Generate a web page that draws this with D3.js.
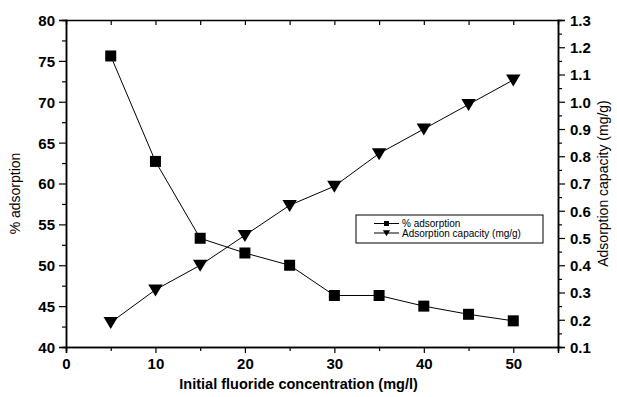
<!DOCTYPE html>
<html>
<head>
<meta charset="utf-8">
<script src="https://cdn.jsdelivr.net/npm/d3@7"></script>
<style>
  body { margin: 0; background: #fff; }
  svg { display: block; font-family: "Liberation Sans", Arial, sans-serif; }
  .tick text { font-weight: bold; font-size: 15px; fill: #000; }
  .domain, .tick line { stroke: #000; }
</style>
</head>
<body>
<svg id="chart" width="617" height="397"></svg>
<script>
// fluoride concentration (mg/l)
const concentration = [5, 10, 15, 20, 25, 30, 35, 40, 45, 50];
// % adsorption (left axis)
const adsorption = [75.6, 62.7, 53.3, 51.5, 50.0, 46.3, 46.3, 45.0, 44.0, 43.2];
// adsorption capacity mg/g (right axis)
const capacity = [0.19, 0.31, 0.40, 0.51, 0.62, 0.69, 0.81, 0.90, 0.99, 1.08];

const xTicks = [0, 10, 20, 30, 40, 50];
const leftTicks = [40, 45, 50, 55, 60, 65, 70, 75, 80];
const rightTicks = [0.1, 0.2, 0.3, 0.4, 0.5, 0.6, 0.7, 0.8, 0.9, 1.0, 1.1, 1.2, 1.3];

const margin = { top: 20, right: 59, bottom: 50, left: 66 };
const width = 617, height = 397;
const w = width - margin.left - margin.right;
const h = height - margin.top - margin.bottom;

const svg = d3.select('#chart');
const g = svg.append('g').attr('transform', `translate(${margin.left},${margin.top})`);

const x = d3.scaleLinear().domain([0, 55]).range([0, w]);
const yL = d3.scaleLinear().domain([40, 80]).range([h, 0]);
const yR = d3.scaleLinear().domain([0.1, 1.3]).range([h, 0]);

// minor ticks first (no labels)
g.append('g').attr('transform', `translate(0,${h})`)
  .call(d3.axisBottom(x).tickValues(d3.range(5, 55, 10)).tickSize(4).tickFormat(''));
g.append('g')
  .call(d3.axisLeft(yL).tickValues(d3.range(42.5, 80, 5)).tickSize(4).tickFormat(''));
g.append('g').attr('transform', `translate(${w},0)`)
  .call(d3.axisRight(yR).tickValues(d3.range(0.15, 1.3, 0.1)).tickSize(4).tickFormat(''));
g.append('g')
  .call(d3.axisTop(x).tickValues(d3.range(5, 55, 5)).tickSize(-5).tickFormat(''));

// major axes
g.append('g').attr('transform', `translate(0,${h})`)
  .call(d3.axisBottom(x).tickValues(xTicks).tickSize(6).tickPadding(5).tickFormat(d3.format('d')));
const lAxis = g.append('g')
  .call(d3.axisLeft(yL).tickValues(leftTicks).tickSize(7).tickPadding(4).tickFormat(d3.format('d')));
const rAxis = g.append('g').attr('transform', `translate(${w},0)`)
  .call(d3.axisRight(yR).tickValues(rightTicks).tickSize(7).tickPadding(5).tickFormat(d3.format('.1f')));

g.selectAll('.domain').attr('stroke-width', 1.5);
g.selectAll('.tick line').attr('stroke-width', 1.2);
lAxis.selectAll('.tick text').attr('dy', '0.36em');
rAxis.selectAll('.tick text').attr('dy', '0.36em');

// axis titles
svg.append('text')
  .attr('x', margin.left + x(26)).attr('y', 389)
  .attr('text-anchor', 'middle').attr('font-size', 14.5).attr('font-weight', 'bold')
  .text('Initial fluoride concentration (mg/l)');
svg.append('text')
  .attr('transform', `translate(20,${margin.top + h / 2 + 10}) rotate(-90)`)
  .attr('text-anchor', 'middle').attr('font-size', 14)
  .text('% adsorption');
svg.append('text')
  .attr('transform', `translate(608,${margin.top + h / 2}) rotate(-90)`)
  .attr('text-anchor', 'middle').attr('font-size', 14)
  .text('Adsorption capacity (mg/g)');

// series
const lineL = d3.line().x((d, i) => x(concentration[i])).y(d => yL(d));
const lineR = d3.line().x((d, i) => x(concentration[i])).y(d => yR(d));

g.append('path').datum(adsorption).attr('d', lineL)
  .attr('fill', 'none').attr('stroke', '#000').attr('stroke-width', 1);
g.append('path').datum(capacity).attr('d', lineR)
  .attr('fill', 'none').attr('stroke', '#000').attr('stroke-width', 1);

const sq = 11;
g.selectAll('.sq').data(adsorption).enter().append('rect')
  .attr('class', 'sq')
  .attr('x', (d, i) => x(concentration[i]) - sq / 2)
  .attr('y', d => yL(d) - sq / 2)
  .attr('width', sq).attr('height', sq).attr('fill', '#000');

const tri = (cx, cy, s) => `M${cx - s * 0.6},${cy - s * 0.45}L${cx + s * 0.6},${cy - s * 0.45}L${cx},${cy + s * 0.55}Z`;
g.selectAll('.tri').data(capacity).enter().append('path')
  .attr('class', 'tri')
  .attr('d', (d, i) => tri(x(concentration[i]), yR(d), 12))
  .attr('fill', '#000');

// legend
const legend = svg.append('g').attr('transform', 'translate(356,215)');
legend.append('rect').attr('width', 187).attr('height', 28)
  .attr('fill', '#fff').attr('stroke', '#000').attr('stroke-width', 1);
const items = [
  { label: '% adsorption', mark: 'sq' },
  { label: 'Adsorption capacity (mg/g)', mark: 'tri' }
];
items.forEach((it, i) => {
  const yy = 8.5 + i * 9.5;
  legend.append('line').attr('x1', 18).attr('x2', 43).attr('y1', yy).attr('y2', yy)
    .attr('stroke', '#000').attr('stroke-width', 1);
  if (it.mark === 'sq') {
    legend.append('rect').attr('x', 28).attr('y', yy - 2.5).attr('width', 5).attr('height', 5).attr('fill', '#000');
  } else {
    legend.append('path').attr('d', tri(30.5, yy, 6)).attr('fill', '#000');
  }
  legend.append('text').attr('x', 46).attr('y', yy).attr('dy', '0.35em')
    .attr('font-size', 10).text(it.label);
});
</script>
</body>
</html>
